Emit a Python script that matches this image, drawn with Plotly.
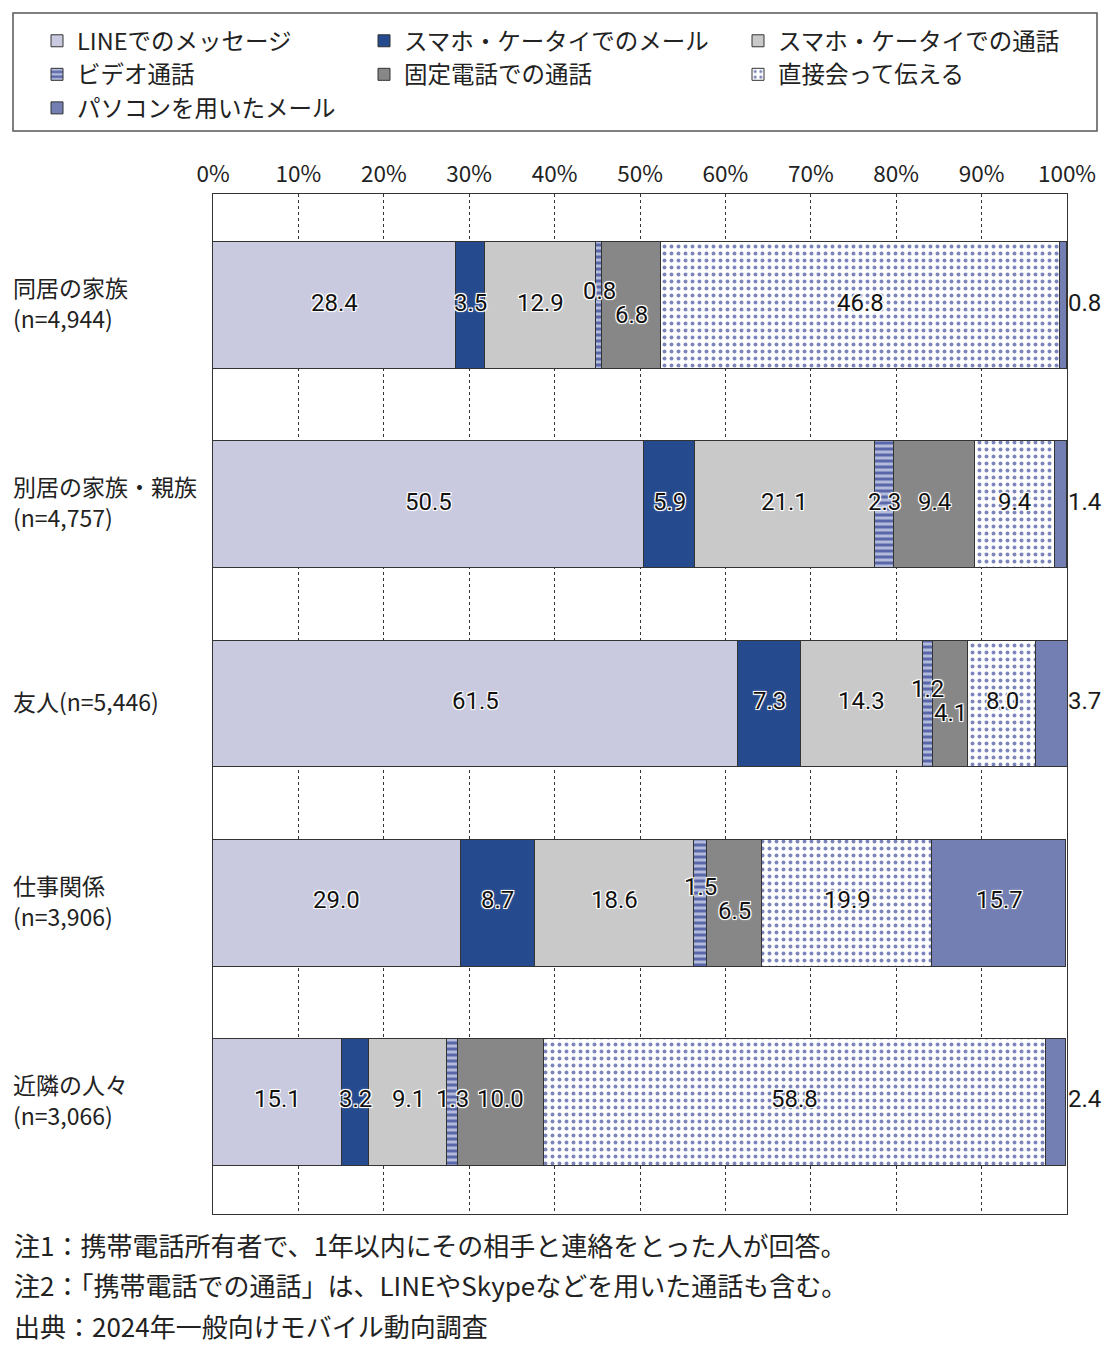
import plotly.graph_objects as go

# ---- data ----
categories = ["同居の家族", "別居の家族・親族", "友人", "仕事関係", "近隣の人々"]
cat_lines = [["同居の家族", "(n=4,944)"], ["別居の家族・親族", "(n=4,757)"], ["友人(n=5,446)"],
             ["仕事関係", "(n=3,906)"], ["近隣の人々", "(n=3,066)"]]
series_names = ["LINEでのメッセージ", "スマホ・ケータイでのメール", "スマホ・ケータイでの通話",
                "ビデオ通話", "固定電話での通話", "直接会って伝える", "パソコンを用いたメール"]
line_msg = [28.4, 50.5, 61.5, 29.0, 15.1]
mobile_mail = [3.5, 5.9, 7.3, 8.7, 3.2]
mobile_call = [12.9, 21.1, 14.3, 18.6, 9.1]
video_call = [0.8, 2.3, 1.2, 1.5, 1.3]
landline_call = [6.8, 9.4, 4.1, 6.5, 10.0]
face_to_face = [46.8, 9.4, 8.0, 19.9, 58.8]
pc_mail = [0.8, 1.4, 3.7, 15.7, 2.4]
series_values = [line_msg, mobile_mail, mobile_call, video_call, landline_call, face_to_face, pc_mail]
x_ticks = list(range(0, 101, 10))
notes = ["注1：携帯電話所有者で、1年以内にその相手と連絡をとった人が回答。",
         "注2：「携帯電話での通話」は、LINEやSkypeなどを用いた通話も含む。",
         "出典：2024年一般向けモバイル動向調査"]

# ---- styles ----
W, H = 1120, 1354
L, R, T, B = 213, 53, 194, 140
PW, PH = W - L - R, H - T - B
JP = "Noto Sans CJK JP, Noto Sans, sans-serif"
NUM = "Roboto, Liberation Sans, sans-serif"
TXT = "#222222"
EDGE = "#333333"

styles = [
    dict(color="#c9cadf"),
    dict(color="#264a8e"),
    dict(color="#c9c9c9"),
    dict(color="#b3bbdc", pattern=dict(shape="-", fgcolor="#5966a8", bgcolor="#b3bbdc", size=6, solidity=0.5, fillmode="replace")),
    dict(color="#878787"),
    dict(color="#ffffff", pattern=dict(shape=".", fgcolor="#7d86bb", bgcolor="#ffffff", size=7, solidity=0.25, fillmode="replace")),
    dict(color="#737fb2"),
]
legend_of = ["legend", "legend2", "legend3", "legend", "legend2", "legend3", "legend"]

def px_x(p):
    return (p - L) / PW

def px_y(p):
    return (T + PH - p) / PH

fig = go.Figure()
for name, vals, st, lg in zip(series_names, series_values, styles, legend_of):
    fig.add_trace(go.Bar(
        y=list(range(len(categories))), x=vals, name=name, orientation="h",
        width=0.637, marker=dict(line=dict(color=EDGE, width=1), **st),
        legend=lg, hoverinfo="skip",
    ))

# data labels
halo = "-1px -1px 0 #fff, 1px -1px 0 #fff, -1px 1px 0 #fff, 1px 1px 0 #fff, 0 0 3px #fff"
stagger = {(0, 3): -12, (0, 4): 12, (2, 3): -12, (2, 4): 12, (3, 3): -13, (3, 4): 11}
annotations = []
for ci in range(len(categories)):
    cum = 0.0
    for si, vals in enumerate(series_values):
        v = vals[ci]
        last = si == len(series_values) - 1
        if last and v < 5:
            annotations.append(dict(x=100, y=ci, xref="x", yref="y", text=f"{v:.1f}", showarrow=False,
                                    xanchor="left", xshift=-1, yshift=3,
                                    font=dict(family=NUM, size=24, color="#1a1a1a")))
        else:
            annotations.append(dict(x=cum + v / 2, y=ci, xref="x", yref="y", text=f"{v:.1f}", showarrow=False,
                                    yshift=-stagger.get((ci, si), 0) + 3,
                                    font=dict(family=NUM, size=24, color="#111111", shadow=halo)))
        cum += v

# category labels
for ci, lines in enumerate(cat_lines):
    n = len(lines)
    for k, ln in enumerate(lines):
        annotations.append(dict(x=px_x(12), y=ci, xref="paper", yref="y", text=ln, showarrow=False,
                                xanchor="left", align="left", borderpad=0,
                                yshift=3 + (n - 1) * 15.5 - 31 * k,
                                font=dict(family=JP, size=23, color=TXT)))

# notes
for k, note in enumerate(notes):
    annotations.append(dict(x=px_x(12), y=px_y(1244 + 40.5 * k), xref="paper", yref="paper", text=note,
                            showarrow=False, xanchor="left", yanchor="middle",
                            font=dict(family=JP, size=26, color=TXT)))

legend_common = dict(orientation="v", yanchor="top", xanchor="left", bgcolor="rgba(0,0,0,0)",
                     font=dict(family=JP, size=23.5, color=TXT), traceorder="normal",
                     itemclick=False, itemdoubleclick=False)

fig.update_layout(
    width=W, height=H,
    margin=dict(l=L, r=R, t=T, b=B, pad=0),
    paper_bgcolor="white", plot_bgcolor="white",
    barmode="stack", bargap=0,
    showlegend=True,
    legend=dict(x=px_x(37), y=px_y(19), **legend_common),
    legend2=dict(x=px_x(364), y=px_y(19), **legend_common),
    legend3=dict(x=px_x(738), y=px_y(19), **legend_common),
    xaxis=dict(side="top", range=[0, 100], tickvals=x_ticks, ticktext=[f"{t}%" for t in x_ticks],
               showgrid=True, gridcolor="#333333", griddash="dot", gridwidth=1,
               zeroline=False, showline=True, linecolor=EDGE, linewidth=1, mirror=True,
               ticks="", ticklabelstandoff=2, tickfont=dict(family=JP, size=22.5, color=TXT), fixedrange=True),
    yaxis=dict(range=[4.56, -0.56], showticklabels=False, showgrid=False, zeroline=False,
               showline=True, linecolor=EDGE, linewidth=1, mirror=True, ticks="", fixedrange=True),
    annotations=annotations,
    shapes=[dict(type="rect", xref="paper", yref="paper", x0=px_x(13), x1=px_x(1097),
                 y0=px_y(131), y1=px_y(13), line=dict(color="#555555", width=1.5))],
)

fig.write_html("out.html")
